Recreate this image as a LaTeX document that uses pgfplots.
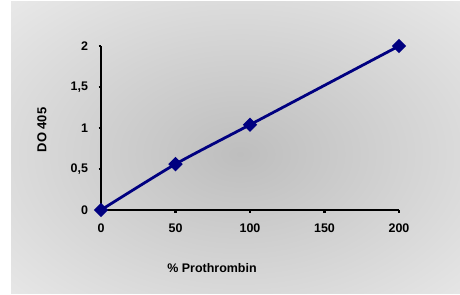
\documentclass[border=0pt]{standalone}
\usepackage{pgfplots}
\pgfplotsset{compat=1.18}
\usepackage{fontspec}
\setmainfont{Liberation Sans}
\definecolor{bg}{HTML}{EBEBEB}
\definecolor{mid}{HTML}{BEBEBE}
\definecolor{navy}{HTML}{000080}
\begin{document}
\begin{tikzpicture}[x=1bp,y=1bp]
\fill[white] (0,0) rectangle (460,294);
\fill[bg] (11,1) rectangle (460,292);
\begin{scope}
\clip (11,1) rectangle (460,292);
\shade[inner color=mid, outer color=bg] (240,140) ellipse (350 and 230);
\end{scope}
\begin{axis}[
  at={(101bp,84bp)}, anchor=south west,
  scale only axis, width=298bp, height=164bp,
  xmin=0, xmax=200, ymin=0, ymax=2,
  axis x line=bottom, axis y line=left,
  axis line style={line width=2.6bp, -, black},
  clip=false,
  xtick={0,50,100,150,200},
  ytick={0,0.5,1,1.5,2},
  xticklabels={0,50,100,150,200},
  yticklabels={0,{0,5},1,{1,5},2},
  tick align=outside,
  major tick length=2.5bp,
  tick style={line width=2.6bp, black},
  tick label style={font=\fontsize{12.5}{14}\selectfont\bfseries},
  xticklabel style={yshift=-8bp},
  yticklabel style={xshift=-7bp},
]
\addplot[navy, line width=2.8bp, smooth, tension=0.4, mark=square*, mark size=3.7bp, mark options={rotate=45, solid, fill=navy}]
  coordinates {(0,0) (50,0.56) (100,1.04) (200,2)};
\end{axis}
\node[font=\fontsize{12.5}{14}\selectfont\bfseries] at (212,26) {\% Prothrombin};
\node[font=\fontsize{13}{14}\selectfont\bfseries, rotate=90] at (42,164) {DO 405};
\end{tikzpicture}
\end{document}
